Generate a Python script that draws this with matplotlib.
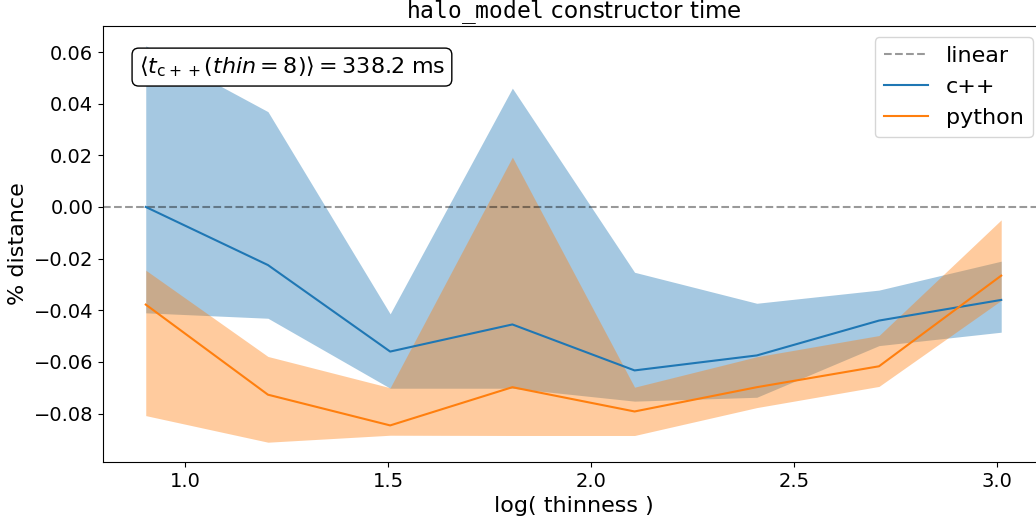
import numpy as np
import matplotlib.pyplot as plt

# thinness values and relative distance from linear scaling
thinness = np.array([8, 16, 32, 64, 128, 256, 512, 1024])
cpp_mean = [0.0, -0.0225, -0.0560, -0.0455, -0.0633, -0.0575, -0.0440, -0.0360]
cpp_hi = [0.0624, 0.0369, -0.0414, 0.0460, -0.0253, -0.0373, -0.0322, -0.0210]
cpp_lo = [-0.0410, -0.0431, -0.0702, -0.0702, -0.0752, -0.0737, -0.0537, -0.0485]
py_mean = [-0.0378, -0.0727, -0.0846, -0.0698, -0.0792, -0.0698, -0.0617, -0.0266]
py_hi = [-0.0245, -0.0579, -0.0700, 0.0193, -0.0698, -0.0580, -0.0498, -0.0050]
py_lo = [-0.0808, -0.0911, -0.0884, -0.0885, -0.0885, -0.0777, -0.0695, -0.0362]
t_ref = 338.2  # ms, c++ at thin=8

lx = np.log10(thinness)

fig = plt.figure(figsize=(10.36, 5.22), dpi=100)
ax = fig.add_axes([0.0994, 0.1149, 0.9083, 0.8353])

ax.axhline(0.0, color='k', ls='--', alpha=0.4, label='linear')
ax.plot(lx, cpp_mean, color='C0', label='c++')
ax.fill_between(lx, cpp_lo, cpp_hi, color='C0', alpha=0.4, lw=0)
ax.plot(lx, py_mean, color='C1', label='python')
ax.fill_between(lx, py_lo, py_hi, color='C1', alpha=0.4, lw=0)

ax.set_title(r'$\mathtt{halo\_model}$ constructor time', fontsize=16.5, pad=3)
ax.set_xlabel('log( thinness )', fontsize=16)
ax.set_ylabel('% distance', fontsize=16)
ax.tick_params(labelsize=14)

ax.text(0.038, 0.934, r'$\langle t_{\mathrm{c++}}(thin=8)\rangle = %.1f$ ms' % t_ref,
        transform=ax.transAxes, fontsize=16, va='top', ha='left',
        bbox=dict(boxstyle='round', facecolor='white', edgecolor='k'))

ax.legend(loc='upper right', fontsize=16)

fig.savefig('out.png', dpi=100)
